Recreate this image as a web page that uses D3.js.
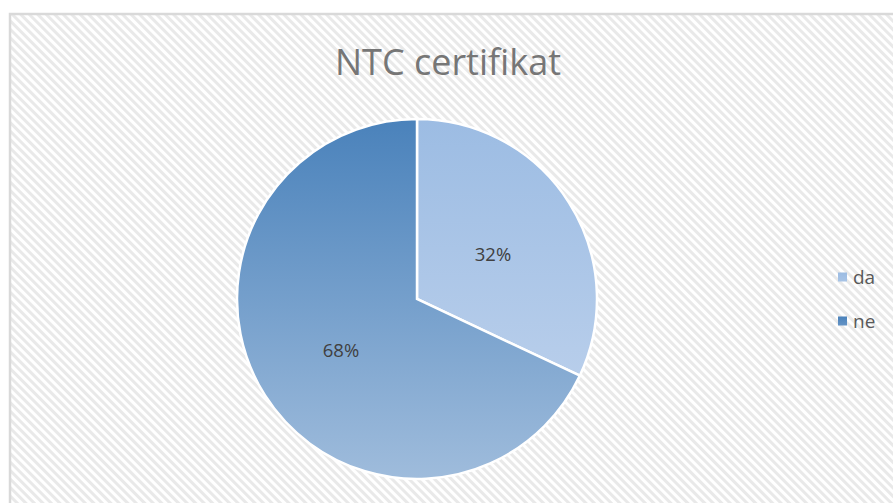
<!DOCTYPE html>
<html>
<head>
<meta charset="utf-8">
<script src="https://cdn.jsdelivr.net/npm/d3@7"></script>
<style>
  body { margin: 0; background: #fff; }
  text { font-family: "Open Sans", "Liberation Sans", sans-serif; }
</style>
</head>
<body>
<div id="chart"></div>
<script>
// chart data
var categories = ["da", "ne"];
var values = [32, 68];
var percentLabels = ["32%", "68%"];
var chartTitle = "NTC certifikat";

var width = 893, height = 503;

var svg = d3.select("#chart")
  .append("svg")
    .attr("width", width)
    .attr("height", height);

var defs = svg.append("defs");

// diagonal hatch for the chart background
var pat = defs.append("pattern")
    .attr("id", "hatch")
    .attr("patternUnits", "userSpaceOnUse")
    .attr("width", 6)
    .attr("height", 6)
    .attr("patternTransform", "rotate(45)");
pat.append("rect").attr("width", 6).attr("height", 6).attr("fill", "#ffffff");
pat.append("rect").attr("width", 6).attr("height", 3).attr("fill", "#e9e9e9");

// gradients for the slices (vertical, over the whole pie)
var gradColors = [
  ["#9cbce3", "#c3d5ee"],
  ["#4a82bb", "#9fbcdc"]
];
var cx = 417, cy = 299, r = 180;

gradColors.forEach(function(c, i) {
  var g = defs.append("linearGradient")
      .attr("id", "grad" + i)
      .attr("gradientUnits", "userSpaceOnUse")
      .attr("x1", 0).attr("y1", -r)
      .attr("x2", 0).attr("y2", r);
  g.append("stop").attr("offset", "0%").attr("stop-color", c[0]);
  g.append("stop").attr("offset", "100%").attr("stop-color", c[1]);

  // small ones for the legend squares
  var lg = defs.append("linearGradient")
      .attr("id", "lg" + i)
      .attr("x1", 0).attr("y1", 0)
      .attr("x2", 0).attr("y2", 1);
  lg.append("stop").attr("offset", "0%").attr("stop-color", c[0]);
  lg.append("stop").attr("offset", "100%").attr("stop-color", d3.interpolateRgb(c[0], c[1])(0.3));
});

// chart area
svg.append("rect")
  .attr("x", 10)
  .attr("y", 14)
  .attr("width", width)
  .attr("height", height)
  .attr("fill", "url(#hatch)")
  .attr("stroke", "#d9d9d9")
  .attr("stroke-width", 2.5);

// title
svg.append("text")
  .attr("x", 448)
  .attr("y", 75)
  .attr("text-anchor", "middle")
  .style("font-size", "36px")
  .style("fill", "#767676")
  .text(chartTitle);

// pie
var pie = d3.pie().sort(null).value(function(d) { return d; });
var arc = d3.arc().innerRadius(0).outerRadius(r);
var labelArc = d3.arc().innerRadius(r * 0.5).outerRadius(r * 0.5);

var arcs = pie(values);

var g = svg.append("g")
  .attr("transform", "translate(" + cx + "," + cy + ")");

g.selectAll("path")
  .data(arcs)
  .enter()
  .append("path")
    .attr("d", arc)
    .attr("fill", function(d, i) { return "url(#grad" + i + ")"; })
    .attr("stroke", "#ffffff")
    .attr("stroke-width", 2.5);

g.selectAll("text.pct")
  .data(arcs)
  .enter()
  .append("text")
    .attr("class", "pct")
    .attr("transform", function(d) { return "translate(" + labelArc.centroid(d) + ")"; })
    .attr("text-anchor", "middle")
    .attr("dy", "0.55em")
    .style("font-size", "18.5px")
    .style("fill", "#404040")
    .text(function(d, i) { return percentLabels[i]; });

// legend
var legend = svg.append("g")
  .attr("transform", "translate(838,277)");

var items = legend.selectAll("g")
  .data(categories)
  .enter()
  .append("g")
    .attr("transform", function(d, i) { return "translate(0," + (i * 44) + ")"; });

items.append("rect")
  .attr("x", 0)
  .attr("y", -4.5)
  .attr("width", 9)
  .attr("height", 9)
  .attr("fill", function(d, i) { return "url(#lg" + i + ")"; });

items.append("text")
  .attr("x", 15)
  .attr("dy", "0.35em")
  .style("font-size", "19px")
  .style("fill", "#595959")
  .text(function(d) { return d; });
</script>
</body>
</html>
